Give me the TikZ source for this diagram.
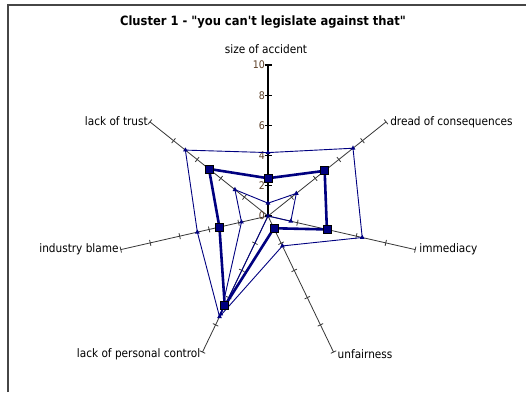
\documentclass[tikz,border=0pt]{standalone}
\usepackage{fontspec}
\usetikzlibrary{calc,shapes.geometric}
\newfontfamily\chartfont{DejaVu Sans Condensed}
\definecolor{navyblue}{RGB}{0,0,128}
\definecolor{axisgray}{RGB}{55,55,55}
\definecolor{framegray}{RGB}{70,70,70}
\definecolor{ticklab}{RGB}{90,60,35}
\begin{document}
\begin{tikzpicture}[x=1pt,y=1pt,
  lbl/.style={font=\chartfont\fontsize{11.7}{13}\selectfont, inner sep=1pt, text=black},
  titlestyle/.style={font=\chartfont\bfseries\fontsize{12.8}{14}\selectfont, inner sep=0pt},
  ticklabel/.style={font=\chartfont\fontsize{10.5}{12}\selectfont, inner sep=0pt, text=ticklab, anchor=east},
  axisline/.style={draw=axisgray, line width=0.8},
  mainaxis/.style={draw=black, line width=1.2},
  thinseries/.style={draw=navyblue, line width=0.9, line join=round},
  thickseries/.style={draw=navyblue, line width=2.6, line join=round},
  trimark/.style={regular polygon, regular polygon sides=3, fill=navyblue, minimum size=5.5pt, inner sep=0pt},
  sqmark/.style={rectangle, fill=navyblue, draw=black, line width=0.7, minimum size=8pt, inner sep=0pt},
  framestyle/.style={draw=framegray, line width=1.2}
]
\useasboundingbox (0,0) rectangle (526,392);
\fill[white] (0,0) rectangle (526,392);
\draw[framestyle] (8,0) -- (8,387) -- (526,387);
\node[titlestyle] (title) at (263,370) {Cluster 1 - "you can't legislate against that"};

\begin{scope}[shift={(268,176)}]
  \coordinate (C) at (0,0);
  % spokes with ticks
  \foreach \i in {0,...,6} {
    \pgfmathsetmacro\ang{90-\i*360/7}
    \coordinate (ax\i) at (\ang:151);
    \draw[axisline] (C) -- (ax\i);
    \foreach \k in {2,4,6,8,10} {
      \draw[axisline] ($(\ang:{\k*15.1})+(\ang+90:3)$) -- ($(\ang:{\k*15.1})+(\ang-90:3)$);
    }
  }
  % main (value) axis
  \draw[mainaxis] (C) -- (ax0);
  \foreach \k in {0,2,4,6,8,10} {
    \draw[mainaxis] ($(-3.5,{\k*15.1})$) -- ($(3.5,{\k*15.1})$);
    \node[ticklabel] (tl\k) at ($(-3,{\k*15.1})$) {\k};
  }
  % data points
  \foreach \i/\v in {0/4.2,1/7.2,2/6.4,3/2.2,4/7.4,5/4.8,6/7.0}
    \coordinate (o\i) at ({90-\i*360/7}:{\v*15.1});
  \foreach \i/\v in {0/0.85,1/2.4,2/1.55,3/0.0,4/7.2,5/1.8,6/2.8}
    \coordinate (n\i) at ({90-\i*360/7}:{\v*15.1});
  \foreach \i/\v in {0/2.5,1/4.8,2/4.0,3/0.9,4/6.6,5/3.3,6/5.0}
    \coordinate (t\i) at ({90-\i*360/7}:{\v*15.1});
  % series
  \draw[thinseries] (o0) -- (o1) -- (o2) -- (o3) -- (o4) -- (o5) -- (o6) -- cycle;
  \draw[thinseries] (n0) -- (n1) -- (n2) -- (n3) -- (n4) -- (n5) -- (n6) -- cycle;
  \draw[thickseries] (t0) -- (t1) -- (t2) -- (t3) -- (t4) -- (t5) -- (t6) -- cycle;
  \foreach \i in {0,...,6} {
    \node[trimark] (mo\i) at (o\i) {};
    \node[trimark] (mn\i) at (n\i) {};
    \node[sqmark] (mt\i) at (t\i) {};
  }
\end{scope}

% axis labels
\node[lbl] (l0) at (266,343) {size of accident};
\node[lbl, anchor=west] (l1) at ($(ax1)+(3,0)$) {dread of consequences};
\node[lbl, anchor=west] (l2) at ($(ax2)+(3,0)$) {immediacy};
\node[lbl, anchor=west] (l3) at ($(ax3)+(3,-2)$) {unfairness};
\node[lbl, anchor=east] (l4) at ($(ax4)+(-1,-2)$) {lack of personal control};
\node[lbl, anchor=east] (l5) at ($(ax5)+(-1,0)$) {industry blame};
\node[lbl, anchor=east] (l6) at ($(ax6)+(-1,1)$) {lack of trust};
\end{tikzpicture}
\end{document}
